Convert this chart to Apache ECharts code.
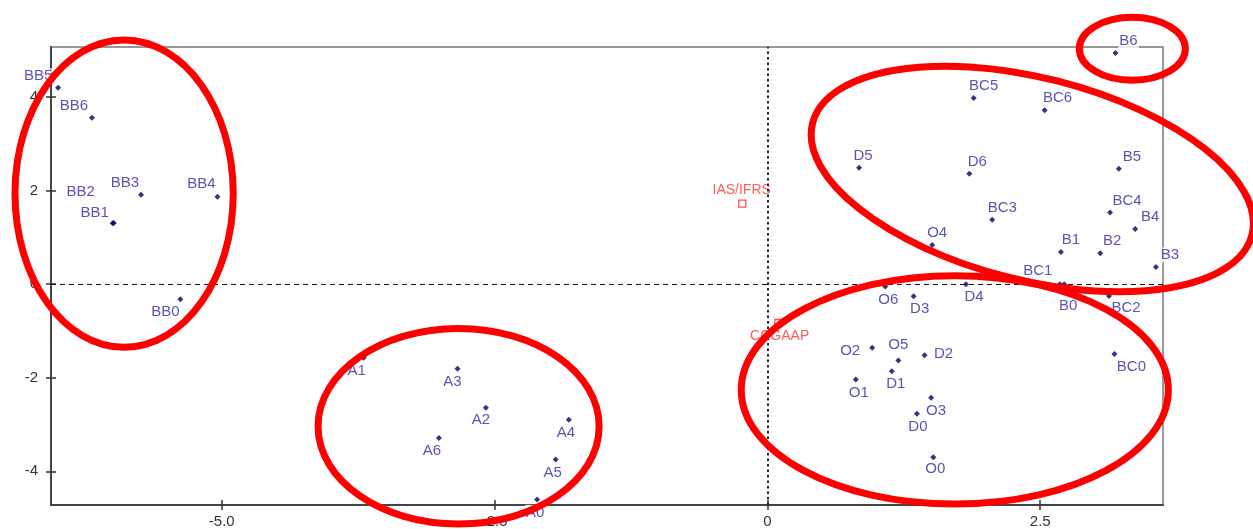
<!DOCTYPE html>
<html>
<head>
<meta charset="utf-8">
<script src="https://cdn.jsdelivr.net/npm/echarts@6/dist/echarts.min.js"></script>
<style>
  html, body { margin: 0; padding: 0; background: #fff; }
  #chart { width: 1253px; height: 529px; }
</style>
</head>
<body>
<div id="chart"></div>
<script>
// factor scores (axis 1, axis 2)
const names = ["BB0", "BB1", "BB2", "BB3", "BB4", "BB5", "BB6",
  "A0", "A1", "A2", "A3", "A4", "A5", "A6",
  "O0", "O1", "O2", "O3", "O4", "O5", "O6",
  "D0", "D1", "D2", "D3", "D4", "D5", "D6",
  "B0", "B1", "B2", "B3", "B4", "B5", "B6",
  "BC0", "BC1", "BC2", "BC3", "BC4", "BC5", "BC6"];
const xValues = [-5.38, -6.00, -5.99, -5.74, -5.04, -6.50, -6.19,
  -2.11, -3.70, -2.58, -2.84, -1.82, -1.94, -3.01,
  1.52, 0.81, 0.96, 1.50, 1.51, 1.20, 1.08,
  1.37, 1.14, 1.44, 1.34, 1.82, 0.84, 1.85,
  2.72, 2.69, 3.05, 3.56, 3.37, 3.22, 3.19,
  3.18, 2.68, 3.13, 2.06, 3.14, 1.89, 2.54];
const yValues = [-0.32, 1.30, 1.31, 1.91, 1.87, 4.20, 3.56,
  -4.60, -1.57, -2.64, -1.81, -2.90, -3.75, -3.29,
  -3.70, -2.04, -1.36, -2.43, 0.84, -1.63, -0.05,
  -2.77, -1.86, -1.52, -0.26, 0.00, 2.49, 2.36,
  0.00, 0.69, 0.66, 0.37, 1.18, 2.47, 4.94,
  -1.49, 0.00, -0.25, 1.38, 1.53, 3.98, 3.72];

// supplementary points
const refNames = ["IAS/IFRS", "CCGAAP"];
const refX = [-0.23, 0.10];
const refY = [1.72, -0.83];

const xTicks = [-5, -2.5, 0, 2.5];
const yTicks = [-4, -2, 0, 2, 4];

// label centre offsets from the point, px
const labelShift = {
  BB0: [-15, 13], BB1: [-18, -11], BB2: [-33, -31], BB3: [-16, -12], BB4: [-16, -13], BB5: [-20, -12], BB6: [-18, -12],
  A0: [-2, 13], A1: [-7, 13], A2: [-5, 12], A3: [-5, 13], A4: [-3, 13], A5: [-3, 13], A6: [-7, 13],
  O0: [2, 12], O1: [3, 13], O2: [-22, 3], O3: [5, 13], O4: [5, -12], O5: [0, -16], O6: [3, 13],
  D0: [1, 13], D1: [4, 13], D2: [19, -1], D3: [6, 13], D4: [8, 13], D5: [4, -12], D6: [8, -12],
  B0: [4, 22], B1: [10, -12], B2: [12, -12], B3: [14, -12], B4: [15, -12], B5: [13, -12], B6: [13, -12],
  BC0: [17, 13], BC1: [-22, -13], BC2: [17, 12], BC3: [10, -12], BC4: [17, -12], BC5: [10, -12], BC6: [13, -12],
  "IAS/IFRS": [0, -13], CCGAAP: [2, 14]
};

// red rings: centre x, centre y, radius x, radius y (data units), tilt in degrees
const rings = [
  [-5.895, 1.936, 1.0, 3.284, 0],
  [-2.83, -3.038, 1.288, 2.09, 0],
  [1.717, -2.26, 1.957, 2.441, 0],
  [2.427, 2.249, 2.077, 2.162, 14.25],
  [3.344, 5.032, 0.486, 0.672, 0]
];

const font = "'Liberation Sans', Arial, sans-serif";

const chart = echarts.init(document.getElementById("chart"));

// position arrays are measured from the symbol's top-left corner
function placeLabel(n, size) {
  const s = labelShift[n] || [0, 0];
  return { position: [size / 2 + s[0], size / 2 + s[1]], align: "center", verticalAlign: "middle" };
}

const pts = names.map((n, i) => ({
  name: n,
  value: [xValues[i], yValues[i]],
  label: placeLabel(n, 6)
}));
const refs = refNames.map((n, i) => ({
  name: n,
  value: [refX[i], refY[i]],
  label: placeLabel(n, 7)
}));

const xBase = {
  type: "value", min: -6.565, max: 3.625,
  splitLine: { show: false }
};
const yBase = {
  type: "value", min: -4.72, max: 5.07,
  splitLine: { show: false }
};

chart.setOption({
  animation: false,
  backgroundColor: "#fff",
  grid: {
    left: 51, right: 90, top: 47, bottom: 23,
    show: true, borderColor: "#777", borderWidth: 1.5
  },
  xAxis: [
    Object.assign({}, xBase, {
      position: "bottom",
      axisLine: { show: true, onZero: false, lineStyle: { color: "#444", width: 2 } },
      axisTick: { show: true, length: 5, customValues: xTicks, lineStyle: { color: "#333", width: 1.5 } },
      axisLabel: {
        customValues: xTicks, margin: 9, color: "#333", fontSize: 15, fontFamily: font,
        formatter: (v) => (v === 0 ? "0" : v.toFixed(1))
      }
    }),
    Object.assign({}, xBase, {
      position: "bottom",
      axisLine: { show: false, onZero: false },
      axisTick: { show: true, inside: true, length: 5, customValues: xTicks, lineStyle: { color: "#333", width: 1.5 } },
      axisLabel: { show: false }
    })
  ],
  yAxis: [
    Object.assign({}, yBase, {
      position: "left",
      axisLine: { show: true, onZero: false, lineStyle: { color: "#444", width: 2 } },
      axisTick: { show: true, length: 5, customValues: yTicks, lineStyle: { color: "#333", width: 1.5 } },
      axisLabel: { customValues: yTicks, margin: 13, color: "#333", fontSize: 15, fontFamily: font }
    }),
    Object.assign({}, yBase, {
      position: "left",
      axisLine: { show: false, onZero: false },
      axisTick: { show: true, inside: true, length: 5, customValues: yTicks, lineStyle: { color: "#333", width: 1.5 } },
      axisLabel: { show: false }
    })
  ],
  series: [
    {
      type: "scatter",
      symbol: "diamond",
      symbolSize: 6,
      itemStyle: { color: "#00006a" },
      label: {
        show: true, formatter: "{b}",
        color: "#2a2a9c", fontSize: 15, fontFamily: font,
        backgroundColor: "#fff", padding: [0, 1]
      },
      data: pts,
      markLine: {
        silent: true, symbol: "none", label: { show: false },
        data: [
          { yAxis: 0, lineStyle: { type: [5, 4], color: "#111", width: 1.2 } },
          { xAxis: 0, lineStyle: { type: [2.5, 3], color: "#222", width: 2 } }
        ]
      },
      z: 3
    },
    {
      type: "scatter",
      symbol: "rect",
      symbolSize: 7,
      itemStyle: { color: "#fff", borderColor: "#ff2020", borderWidth: 1.3 },
      label: {
        show: true, formatter: "{b}",
        color: "#ff3030", fontSize: 14, fontFamily: font
      },
      data: refs,
      z: 4
    }
  ]
});

// rings are placed through the axis scales
const o = chart.convertToPixel({ gridIndex: 0 }, [0, 0]);
const u = chart.convertToPixel({ gridIndex: 0 }, [1, 1]);
const sx = u[0] - o[0];
const sy = o[1] - u[1];
chart.setOption({
  graphic: rings.map((r) => {
    const c = chart.convertToPixel({ gridIndex: 0 }, [r[0], r[1]]);
    return {
      type: "ellipse",
      x: c[0], y: c[1],
      rotation: -r[4] * Math.PI / 180,
      shape: { cx: 0, cy: 0, rx: r[2] * sx, ry: r[3] * sy },
      style: { fill: null, stroke: "#ff0000", lineWidth: 7 },
      silent: true,
      z: 100
    };
  })
});
</script>
</body>
</html>
